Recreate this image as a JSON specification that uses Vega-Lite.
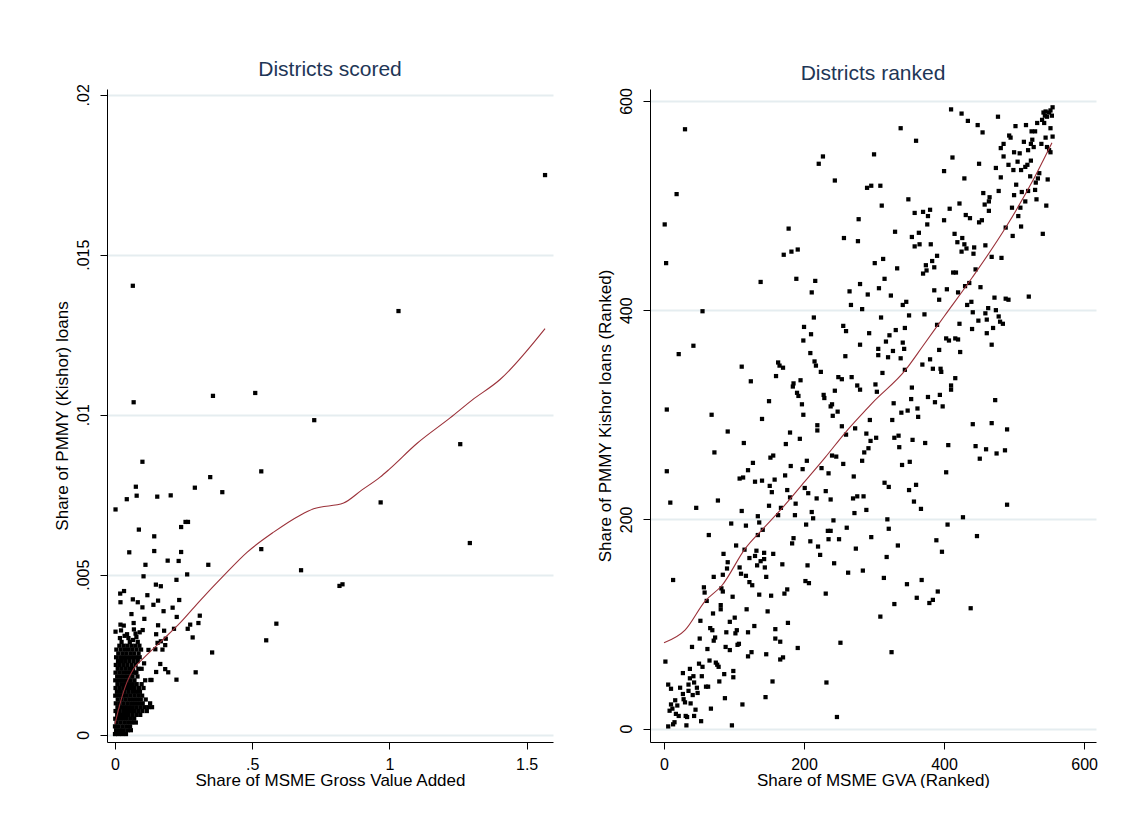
{
"$schema":"https://vega.github.io/schema/vega-lite/v6.json",
"background":"white",
"padding":{"left":53,"top":58,"right":0,"bottom":0},
"spacing":43,
"config":{
 "font":"Liberation Sans",
 "view":{"stroke":null},
 "title":{"font":"Liberation Sans","fontSize":21,"fontWeight":"normal","color":"#1e3656","frame":"group","anchor":"middle","offset":4,"baseline":"alphabetic"},
 "axis":{"domainColor":"#000","domainWidth":1,"tickColor":"#000","tickSize":7,"labelFont":"Liberation Sans","labelFontSize":16,"labelColor":"#000","titleFont":"Liberation Sans","titleFontSize":17,"titleColor":"#000","titleFontWeight":"normal","gridColor":"#e5edf0","gridWidth":2,"labelFlush":false,"labelOverlap":false},
 "axisY":{"labelAngle":270,"labelAlign":"center","labelBaseline":"bottom","labelPadding":9,"titlePadding":4,"grid":true},
 "axisX":{"grid":false,"labelPadding":7,"titlePadding":0}
},
"datasets":{
"left":[
{"x":1.567,"y":0.01749},{"x":0.065,"y":0.01403},{"x":0.068,"y":0.01039},{"x":1.033,"y":0.01324},{"x":0.357,"y":0.01059},{"x":0.511,"y":0.01068},{"x":0.726,"y":0.00983},{"x":1.258,"y":0.00908},{"x":1.293,"y":0.00599},{"x":0.968,"y":0.00726},{"x":0.533,"y":0.00823},{"x":0.533,"y":0.0058},{"x":0.678,"y":0.00514},{"x":0.818,"y":0.00465},{"x":0.829,"y":0.0047},
{"x":0.100,"y":0.00853},{"x":0.076,"y":0.00775},{"x":0.079,"y":0.00747},{"x":0.043,"y":0.00736},{"x":0.002,"y":0.00704},{"x":0.154,"y":0.00744},{"x":0.203,"y":0.00748},{"x":0.291,"y":0.00772},{"x":0.347,"y":0.00805},{"x":0.391,"y":0.00758},{"x":0.087,"y":0.00641},{"x":0.143,"y":0.0062},{"x":0.241,"y":0.00649},{"x":0.257,"y":0.00665},{"x":0.266,"y":0.00665},{"x":0.052,"y":0.0057},{"x":0.143,"y":0.00574},{"x":0.241,"y":0.00571},{"x":0.192,"y":0.00544},{"x":0.232,"y":0.00543},{"x":0.111,"y":0.00531},{"x":0.340,"y":0.00531},{"x":0.104,"y":0.00495},{"x":0.263,"y":0.00501},{"x":0.224,"y":0.00484},
{"x":0.149,"y":0.00469},{"x":0.167,"y":0.00464},{"x":0.019,"y":0.00441},{"x":0.033,"y":0.00449},{"x":0.020,"y":0.00414},{"x":0.065,"y":0.00423},{"x":0.083,"y":0.00414},{"x":0.100,"y":0.00398},{"x":0.118,"y":0.00436},{"x":0.157,"y":0.00419},{"x":0.140,"y":0.00406},{"x":0.177,"y":0.00386},{"x":0.210,"y":0.00397},{"x":0.234,"y":0.00421},{"x":0.225,"y":0.00368},{"x":0.060,"y":0.00377},{"x":0.107,"y":0.00362},{"x":0.068,"y":0.00349},{"x":0.309,"y":0.00372},{"x":0.304,"y":0.00349},{"x":0.274,"y":0.00344},{"x":0.265,"y":0.00331},{"x":0.215,"y":0.00331},{"x":0.020,"y":0.00344},{"x":0.032,"y":0.00341},{"x":0.002,"y":0.00322},{"x":0.101,"y":0.00327},{"x":0.157,"y":0.00342},{"x":0.150,"y":0.00314},{"x":0.179,"y":0.00325},{"x":0.283,"y":0.00304},{"x":0.185,"y":0.003},{"x":0.167,"y":0.00292},{"x":0.155,"y":0.00287},{"x":0.183,"y":0.0028},{"x":0.122,"y":0.00265},{"x":0.147,"y":0.00267},{"x":0.173,"y":0.00266},{"x":0.354,"y":0.00257},{"x":0.551,"y":0.00295},{"x":0.588,"y":0.00347},{"x":0.165,"y":0.00221},{"x":0.183,"y":0.00205},{"x":0.194,"y":0.00195},{"x":0.150,"y":0.00196},{"x":0.294,"y":0.00195},{"x":0.224,"y":0.00172},{"x":0.129,"y":0.00171},{"x":0.133,"y":0.00171},{"x":0.106,"y":0.00223},{"x":0.078,"y":0.00194},
{"x":0.000,"y":0.00002},{"x":0.012,"y":0.00002},{"x":0.026,"y":0.00002},{"x":0.040,"y":0.00002},
{"x":0.004,"y":0.00014},{"x":0.018,"y":0.00014},{"x":0.032,"y":0.00014},{"x":0.046,"y":0.00014},{"x":0.058,"y":0.00014},
{"x":0.000,"y":0.00026},{"x":0.013,"y":0.00026},{"x":0.027,"y":0.00026},{"x":0.041,"y":0.00026},{"x":0.055,"y":0.00026},
{"x":0.006,"y":0.00038},{"x":0.020,"y":0.00038},{"x":0.034,"y":0.00038},{"x":0.048,"y":0.00038},{"x":0.062,"y":0.00038},{"x":0.076,"y":0.00038},
{"x":0.001,"y":0.0005},{"x":0.015,"y":0.0005},{"x":0.029,"y":0.0005},{"x":0.043,"y":0.0005},{"x":0.057,"y":0.0005},{"x":0.070,"y":0.0005},
{"x":0.008,"y":0.00062},{"x":0.022,"y":0.00062},{"x":0.036,"y":0.00062},{"x":0.050,"y":0.00062},{"x":0.064,"y":0.00062},{"x":0.078,"y":0.00062},{"x":0.092,"y":0.00062},
{"x":0.002,"y":0.00074},{"x":0.016,"y":0.00074},{"x":0.030,"y":0.00074},{"x":0.044,"y":0.00074},{"x":0.058,"y":0.00074},{"x":0.072,"y":0.00074},{"x":0.086,"y":0.00074},{"x":0.100,"y":0.00074},{"x":0.116,"y":0.00074},
{"x":0.009,"y":0.00086},{"x":0.023,"y":0.00086},{"x":0.037,"y":0.00086},{"x":0.051,"y":0.00086},{"x":0.065,"y":0.00086},{"x":0.079,"y":0.00086},{"x":0.093,"y":0.00086},{"x":0.107,"y":0.00086},{"x":0.121,"y":0.00086},{"x":0.135,"y":0.00086},
{"x":0.003,"y":0.00098},{"x":0.017,"y":0.00098},{"x":0.031,"y":0.00098},{"x":0.045,"y":0.00098},{"x":0.059,"y":0.00098},{"x":0.073,"y":0.00098},{"x":0.087,"y":0.00098},{"x":0.101,"y":0.00098},{"x":0.128,"y":0.00098},
{"x":0.010,"y":0.0011},{"x":0.024,"y":0.0011},{"x":0.038,"y":0.0011},{"x":0.052,"y":0.0011},{"x":0.066,"y":0.0011},{"x":0.080,"y":0.0011},{"x":0.094,"y":0.0011},{"x":0.112,"y":0.0011},
{"x":0.001,"y":0.00122},{"x":0.015,"y":0.00122},{"x":0.029,"y":0.00122},{"x":0.043,"y":0.00122},{"x":0.057,"y":0.00122},{"x":0.071,"y":0.00122},{"x":0.085,"y":0.00122},{"x":0.099,"y":0.00122},
{"x":0.007,"y":0.00134},{"x":0.021,"y":0.00134},{"x":0.035,"y":0.00134},{"x":0.049,"y":0.00134},{"x":0.063,"y":0.00134},{"x":0.077,"y":0.00134},{"x":0.091,"y":0.00134},
{"x":0.002,"y":0.00146},{"x":0.016,"y":0.00146},{"x":0.030,"y":0.00146},{"x":0.044,"y":0.00146},{"x":0.058,"y":0.00146},{"x":0.072,"y":0.00146},{"x":0.088,"y":0.00146},{"x":0.104,"y":0.00146},
{"x":0.009,"y":0.00158},{"x":0.023,"y":0.00158},{"x":0.037,"y":0.00158},{"x":0.051,"y":0.00158},{"x":0.065,"y":0.00158},{"x":0.079,"y":0.00158},{"x":0.097,"y":0.00158},
{"x":0.001,"y":0.0017},{"x":0.015,"y":0.0017},{"x":0.029,"y":0.0017},{"x":0.043,"y":0.0017},{"x":0.057,"y":0.0017},{"x":0.071,"y":0.0017},{"x":0.110,"y":0.0017},
{"x":0.008,"y":0.00182},{"x":0.022,"y":0.00182},{"x":0.036,"y":0.00182},{"x":0.050,"y":0.00182},{"x":0.064,"y":0.00182},{"x":0.082,"y":0.00182},
{"x":0.002,"y":0.00194},{"x":0.016,"y":0.00194},{"x":0.030,"y":0.00194},{"x":0.044,"y":0.00194},{"x":0.058,"y":0.00194},{"x":0.072,"y":0.00194},
{"x":0.010,"y":0.00206},{"x":0.024,"y":0.00206},{"x":0.038,"y":0.00206},{"x":0.052,"y":0.00206},{"x":0.066,"y":0.00206},{"x":0.085,"y":0.00206},{"x":0.097,"y":0.00206},
{"x":0.003,"y":0.00218},{"x":0.017,"y":0.00218},{"x":0.031,"y":0.00218},{"x":0.045,"y":0.00218},{"x":0.060,"y":0.00218},{"x":0.075,"y":0.00218},
{"x":0.011,"y":0.0023},{"x":0.025,"y":0.0023},{"x":0.039,"y":0.0023},{"x":0.053,"y":0.0023},{"x":0.068,"y":0.0023},{"x":0.083,"y":0.0023},
{"x":0.004,"y":0.00242},{"x":0.019,"y":0.00242},{"x":0.033,"y":0.00242},{"x":0.047,"y":0.00242},{"x":0.062,"y":0.00242},{"x":0.077,"y":0.00242},{"x":0.090,"y":0.00242},
{"x":0.012,"y":0.00254},{"x":0.027,"y":0.00254},{"x":0.041,"y":0.00254},{"x":0.056,"y":0.00254},{"x":0.070,"y":0.00254},{"x":0.086,"y":0.00254},
{"x":0.005,"y":0.00266},{"x":0.021,"y":0.00266},{"x":0.036,"y":0.00266},{"x":0.050,"y":0.00266},{"x":0.064,"y":0.00266},{"x":0.079,"y":0.00266},{"x":0.095,"y":0.00266},
{"x":0.016,"y":0.00278},{"x":0.031,"y":0.00278},{"x":0.045,"y":0.00278},{"x":0.060,"y":0.00278},{"x":0.074,"y":0.00278},{"x":0.089,"y":0.00278},
{"x":0.024,"y":0.0029},{"x":0.054,"y":0.0029},{"x":0.083,"y":0.0029},{"x":0.066,"y":0.00296},
{"x":0.018,"y":0.00302},{"x":0.049,"y":0.00302},{"x":0.078,"y":0.00305},
{"x":0.044,"y":0.00314},{"x":0.075,"y":0.00316},{"x":0.035,"y":0.00309},
{"x":0.022,"y":0.00326},{"x":0.069,"y":0.00329},{"x":0.090,"y":0.0032}
],
"leftfit":[
{"x":0.0,"y":0.00034},{"x":0.02,"y":0.00102},{"x":0.044,"y":0.00165},{"x":0.068,"y":0.00206},{"x":0.105,"y":0.00240},{"x":0.166,"y":0.0029},{"x":0.238,"y":0.0035},{"x":0.311,"y":0.0042},{"x":0.396,"y":0.00497},{"x":0.481,"y":0.0057},{"x":0.578,"y":0.00633},{"x":0.675,"y":0.00686},{"x":0.724,"y":0.00706},{"x":0.833,"y":0.00724},{"x":0.9,"y":0.00765},{"x":0.966,"y":0.00805},{"x":1.0,"y":0.0083},{"x":1.1,"y":0.0091},{"x":1.221,"y":0.0099},{"x":1.3,"y":0.01045},{"x":1.403,"y":0.0111},{"x":1.567,"y":0.01269}
],
"right":[
{"x":30,"y":573},{"x":227,"y":547},{"x":221,"y":540},{"x":244,"y":524},{"x":290,"y":517},{"x":296,"y":519},{"x":18,"y":511},{"x":278,"y":487},{"x":1,"y":482},{"x":178,"y":478},{"x":257,"y":469},{"x":277,"y":466},{"x":171,"y":453},{"x":182,"y":456},{"x":191,"y":458},{"x":3,"y":445},{"x":189,"y":430},{"x":138,"y":427},{"x":216,"y":428},{"x":211,"y":417},{"x":280,"y":425},{"x":265,"y":418},{"x":291,"y":415},{"x":267,"y":405},{"x":283,"y":401},{"x":55,"y":399},{"x":214,"y":393},{"x":200,"y":384},{"x":210,"y":377},{"x":256,"y":385},{"x":260,"y":380},{"x":293,"y":378},{"x":199,"y":371},{"x":280,"y":367},{"x":42,"y":366},{"x":21,"y":358},{"x":209,"y":359},{"x":259,"y":356},{"x":111,"y":346},{"x":163,"y":350},{"x":165,"y":347},{"x":170,"y":345},{"x":215,"y":351},{"x":217,"y":347},{"x":224,"y":341},{"x":160,"y":337},{"x":124,"y":332},{"x":195,"y":333},{"x":185,"y":330},{"x":184,"y":327},{"x":249,"y":336},{"x":254,"y":334},{"x":268,"y":336},{"x":276,"y":328},{"x":280,"y":324},{"x":190,"y":321},{"x":192,"y":318},{"x":228,"y":319},{"x":229,"y":316},{"x":244,"y":323},{"x":150,"y":313},{"x":197,"y":310},{"x":238,"y":308},{"x":240,"y":310},{"x":248,"y":303},{"x":4,"y":305},{"x":68,"y":300},{"x":199,"y":300},{"x":241,"y":299},{"x":140,"y":296},{"x":294,"y":295},
{"x":410,"y":592},{"x":425,"y":588},{"x":434,"y":581},{"x":448,"y":577},{"x":455,"y":570},{"x":477,"y":585},{"x":338,"y":574},{"x":360,"y":562},{"x":300,"y":549},{"x":412,"y":546},{"x":400,"y":533},{"x":450,"y":540},{"x":429,"y":526},{"x":309,"y":519},{"x":311,"y":500},{"x":349,"y":506},{"x":408,"y":497},{"x":422,"y":502},{"x":358,"y":493},{"x":370,"y":494},{"x":380,"y":496},{"x":377,"y":490},{"x":376,"y":482},{"x":400,"y":486},{"x":456,"y":512},{"x":465,"y":508},{"x":464,"y":504},{"x":458,"y":501},{"x":464,"y":495},{"x":478,"y":514},{"x":431,"y":491},{"x":437,"y":488},{"x":450,"y":484},{"x":454,"y":486},{"x":330,"y":475},{"x":354,"y":470},{"x":364,"y":474},{"x":358,"y":461},{"x":365,"y":463},{"x":381,"y":463},{"x":415,"y":473},{"x":426,"y":469},{"x":419,"y":465},{"x":429,"y":463},{"x":432,"y":459},{"x":425,"y":456},{"x":443,"y":460},{"x":442,"y":454},{"x":459,"y":462},{"x":390,"y":452},{"x":383,"y":447},{"x":374,"y":443},{"x":386,"y":441},{"x":375,"y":438},{"x":370,"y":435},{"x":301,"y":445},{"x":313,"y":449},{"x":333,"y":440},{"x":315,"y":430},{"x":307,"y":421},{"x":324,"y":414},{"x":413,"y":436},{"x":417,"y":436},{"x":445,"y":439},{"x":468,"y":451},{"x":482,"y":450},{"x":386,"y":419},{"x":404,"y":420},{"x":420,"y":417},{"x":430,"y":423},{"x":436,"y":426},{"x":452,"y":422},{"x":393,"y":410},{"x":341,"y":405},{"x":346,"y":408},{"x":433,"y":405},{"x":439,"y":408},{"x":472,"y":412},{"x":488,"y":411},{"x":492,"y":410},{"x":521,"y":413},{"x":372,"y":396},{"x":350,"y":395},{"x":310,"y":393},{"x":441,"y":398},{"x":463,"y":402},{"x":459,"y":397},{"x":474,"y":400},{"x":478,"y":394},{"x":480,"y":389},{"x":484,"y":387},{"x":449,"y":390},{"x":461,"y":391},{"x":422,"y":387},{"x":440,"y":382},{"x":470,"y":383},{"x":390,"y":386},{"x":344,"y":383},{"x":331,"y":381},{"x":322,"y":376},{"x":317,"y":370},{"x":306,"y":363},{"x":306,"y":357},{"x":320,"y":355},{"x":327,"y":361},{"x":341,"y":369},{"x":343,"y":363},{"x":338,"y":354},{"x":403,"y":373},{"x":407,"y":371},{"x":416,"y":373},{"x":420,"y":372},{"x":393,"y":362},{"x":423,"y":360},{"x":461,"y":378},{"x":468,"y":367},{"x":380,"y":353},{"x":369,"y":348},{"x":384,"y":344},{"x":395,"y":344},{"x":396,"y":341},{"x":344,"y":343},{"x":312,"y":340},{"x":416,"y":335},{"x":302,"y":329},{"x":304,"y":322},{"x":354,"y":326},{"x":410,"y":328},{"x":410,"y":324},{"x":394,"y":319},{"x":377,"y":317},{"x":353,"y":315},{"x":387,"y":312},{"x":398,"y":308},{"x":328,"y":311},{"x":362,"y":306},{"x":348,"y":304},{"x":339,"y":302},{"x":363,"y":298},{"x":473,"y":314},{"x":326,"y":295},
{"x":502,"y":576},{"x":517,"y":577},{"x":533,"y":579},{"x":542,"y":589},{"x":545,"y":590},{"x":552,"y":591},{"x":555,"y":594},{"x":550,"y":589},{"x":544,"y":586},{"x":540,"y":582},{"x":547,"y":585},{"x":554,"y":586},{"x":543,"y":579},{"x":552,"y":574},{"x":545,"y":565},{"x":555,"y":566},{"x":539,"y":559},{"x":525,"y":571},{"x":530,"y":571},{"x":526,"y":563},{"x":524,"y":559},{"x":514,"y":561},{"x":520,"y":553},{"x":528,"y":556},{"x":508,"y":550},{"x":500,"y":551},{"x":485,"y":559},{"x":481,"y":555},{"x":493,"y":567},{"x":495,"y":565},{"x":485,"y":547},{"x":492,"y":539},{"x":505,"y":542},{"x":519,"y":539},{"x":524,"y":543},{"x":510,"y":534},{"x":516,"y":537},{"x":523,"y":528},{"x":536,"y":531},{"x":534,"y":526},{"x":548,"y":525},{"x":550,"y":553},{"x":552,"y":551},{"x":547,"y":556},{"x":474,"y":536},{"x":481,"y":527},{"x":499,"y":534},{"x":503,"y":520},{"x":511,"y":513},{"x":520,"y":514},{"x":530,"y":515},{"x":531,"y":522},{"x":532,"y":506},{"x":546,"y":500},{"x":500,"y":510},{"x":516,"y":504},{"x":497,"y":498},{"x":509,"y":498},{"x":506,"y":490},{"x":510,"y":480},{"x":498,"y":471},{"x":488,"y":479},{"x":541,"y":473},
{"x":219,"y":290},{"x":219,"y":285},{"x":254,"y":289},{"x":273,"y":287},{"x":289,"y":282},{"x":295,"y":275},{"x":91,"y":284},{"x":180,"y":283},{"x":194,"y":277},{"x":174,"y":272},{"x":260,"y":281},{"x":114,"y":273},{"x":72,"y":264},{"x":4,"y":246},{"x":152,"y":259},{"x":156,"y":261},{"x":127,"y":254},{"x":204,"y":256},{"x":181,"y":251},{"x":240,"y":261},{"x":246,"y":260},{"x":256,"y":253},{"x":283,"y":256},{"x":286,"y":264},{"x":292,"y":268},{"x":120,"y":247},{"x":173,"y":242},{"x":198,"y":248},{"x":225,"y":249},{"x":235,"y":244},{"x":271,"y":241},{"x":108,"y":239},{"x":113,"y":240},{"x":130,"y":236},{"x":140,"y":237},{"x":151,"y":232},{"x":158,"y":238},{"x":154,"y":226},{"x":176,"y":228},{"x":201,"y":230},{"x":206,"y":225},{"x":231,"y":227},{"x":218,"y":220},{"x":238,"y":219},{"x":270,"y":220},{"x":276,"y":222},{"x":285,"y":222},{"x":289,"y":209},{"x":272,"y":206},{"x":9,"y":216},{"x":77,"y":218},{"x":46,"y":211},{"x":150,"y":213},{"x":167,"y":211},{"x":180,"y":221},{"x":188,"y":215},{"x":111,"y":208},{"x":163,"y":204},{"x":187,"y":204},{"x":211,"y":207},{"x":213,"y":201},{"x":242,"y":199},{"x":134,"y":203},{"x":136,"y":197},{"x":96,"y":196},{"x":117,"y":194},{"x":141,"y":190},{"x":203,"y":195},{"x":261,"y":192},{"x":234,"y":189},{"x":238,"y":189},{"x":64,"y":185},{"x":134,"y":185},{"x":185,"y":182},{"x":183,"y":177},{"x":209,"y":179},{"x":235,"y":181},{"x":250,"y":181},{"x":296,"y":183},{"x":220,"y":174},{"x":223,"y":166},{"x":274,"y":172},{"x":103,"y":175},{"x":132,"y":170},{"x":130,"y":165},{"x":143,"y":168},{"x":143,"y":162},{"x":156,"y":167},{"x":85,"y":167},{"x":91,"y":159},{"x":115,"y":171},{"x":122,"y":163},{"x":138,"y":160},{"x":133,"y":156},{"x":144,"y":154},{"x":108,"y":154},{"x":110,"y":148},{"x":117,"y":146},{"x":146,"y":145},{"x":169,"y":157},{"x":205,"y":156},{"x":243,"y":158},{"x":263,"y":149},{"x":284,"y":151},{"x":90,"y":153},{"x":84,"y":147},{"x":71,"y":145},{"x":13,"y":142},{"x":122,"y":140},{"x":126,"y":137},{"x":202,"y":141},{"x":207,"y":139},{"x":231,"y":129},{"x":57,"y":135},{"x":58,"y":130},{"x":82,"y":134},{"x":84,"y":131},{"x":98,"y":126},{"x":136,"y":128},{"x":153,"y":127},{"x":172,"y":129},{"x":176,"y":133},{"x":61,"y":122},{"x":81,"y":118},{"x":81,"y":114},{"x":70,"y":110},{"x":101,"y":106},{"x":118,"y":114},{"x":148,"y":112},{"x":177,"y":101},{"x":129,"y":98},{"x":94,"y":102},{"x":52,"y":103},{"x":66,"y":96},{"x":69,"y":94},{"x":51,"y":86},{"x":73,"y":87},{"x":71,"y":84},{"x":89,"y":92},{"x":102,"y":91},{"x":104,"y":94},{"x":120,"y":92},{"x":159,"y":95},{"x":159,"y":86},{"x":166,"y":83},{"x":105,"y":80},{"x":107,"y":81},{"x":88,"y":78},{"x":94,"y":75},{"x":62,"y":76},{"x":40,"y":78},{"x":125,"y":73},{"x":120,"y":69},{"x":146,"y":71},{"x":166,"y":66},{"x":170,"y":68},{"x":191,"y":77},{"x":252,"y":82},{"x":2,"y":64},{"x":65,"y":65},{"x":50,"y":62},{"x":55,"y":59},{"x":74,"y":63},{"x":78,"y":59},{"x":76,"y":61},{"x":37,"y":57},{"x":27,"y":53},{"x":54,"y":50},{"x":42,"y":50},{"x":37,"y":48},{"x":43,"y":44},{"x":86,"y":52},{"x":99,"y":55},{"x":99,"y":49},{"x":79,"y":45},{"x":60,"y":40},{"x":63,"y":40},{"x":47,"y":39},{"x":48,"y":34},{"x":35,"y":36},{"x":35,"y":42},{"x":23,"y":39},{"x":10,"y":38},{"x":6,"y":42},{"x":27,"y":33},{"x":28,"y":28},{"x":30,"y":25},{"x":38,"y":24},{"x":41,"y":32},{"x":16,"y":27},{"x":19,"y":22},{"x":10,"y":23},{"x":12,"y":19},{"x":8,"y":17},{"x":17,"y":14},{"x":21,"y":12},{"x":15,"y":6},{"x":6,"y":2},{"x":13,"y":4},{"x":31,"y":12},{"x":33,"y":11},{"x":32,"y":3},{"x":45,"y":18},{"x":43,"y":12},{"x":53,"y":7},{"x":67,"y":19},{"x":87,"y":29},{"x":112,"y":23},{"x":145,"y":30},{"x":97,"y":3},{"x":155,"y":45},{"x":232,"y":44},{"x":247,"y":11},
{"x":303,"y":278},{"x":329,"y":278},{"x":335,"y":280},{"x":336,"y":269},{"x":355,"y":276},{"x":373,"y":273},{"x":406,"y":271},{"x":441,"y":291},{"x":468,"y":292},{"x":490,"y":286},{"x":445,"y":270},{"x":460,"y":267},{"x":475,"y":263},{"x":487,"y":266},{"x":451,"y":258},{"x":351,"y":255},{"x":340,"y":252},{"x":403,"y":245},{"x":315,"y":235},{"x":321,"y":231},{"x":350,"y":228},{"x":360,"y":233},{"x":357,"y":217},{"x":367,"y":210},{"x":490,"y":214},{"x":319,"y":200},{"x":321,"y":191},{"x":427,"y":202},{"x":405,"y":195},{"x":447,"y":184},{"x":389,"y":180},{"x":397,"y":169},{"x":334,"y":175},{"x":318,"y":164},{"x":314,"y":144},{"x":347,"y":138},{"x":368,"y":142},{"x":391,"y":131},{"x":361,"y":125},{"x":384,"y":123},{"x":379,"y":120},{"x":329,"y":119},{"x":438,"y":115},{"x":309,"y":107},{"x":325,"y":73}
],
"rightfit":[
{"x":0,"y":82},{"x":30,"y":94},{"x":59,"y":122},{"x":83,"y":137},{"x":116,"y":172},{"x":140,"y":190},{"x":169,"y":211},{"x":197,"y":233},{"x":230,"y":259},{"x":259,"y":283},{"x":286,"y":303},{"x":297,"y":311},{"x":345,"y":343},{"x":370,"y":366},{"x":400,"y":394},{"x":440,"y":431},{"x":488,"y":479},{"x":526,"y":523},{"x":554,"y":560}
]
},
"hconcat":[
{
 "width":446,"height":653,
 "title":{"text":"Districts scored"},
 "encoding":{
  "x":{"field":"x","type":"quantitative","scale":{"domain":[-0.0291,1.596],"nice":false,"zero":false},"axis":{"title":"Share of MSME Gross Value Added","values":[0,0.5,1,1.5],"labelExpr":"datum.value == 0 ? '0' : replace(toString(datum.value), '0.', '.')"}},
  "y":{"field":"y","type":"quantitative","scale":{"domain":[-0.000228,0.02018],"nice":false,"zero":false},"axis":{"title":"Share of PMMY (Kishor) loans","values":[0,0.005,0.01,0.015,0.02],"labelExpr":"datum.value == 0 ? '0' : replace(toString(datum.value), '0.', '.')"}}
 },
 "layer":[
  {"data":{"name":"left"},"mark":{"type":"point","shape":"square","filled":true,"size":18,"color":"#000","opacity":1,"strokeWidth":0}},
  {"data":{"name":"leftfit"},"mark":{"type":"line","color":"#9b3139","strokeWidth":1.1,"interpolate":"monotone"}}
 ]
},
{
 "width":446,"height":653,
 "title":{"text":"Districts ranked"},
 "encoding":{
  "x":{"field":"x","type":"quantitative","scale":{"domain":[-20,617],"nice":false,"zero":false},"axis":{"title":"Share of MSME GVA (Ranked)","values":[0,200,400,600]}},
  "y":{"field":"y","type":"quantitative","scale":{"domain":[-12.9,611.5],"nice":false,"zero":false},"axis":{"title":"Share of PMMY Kishor loans (Ranked)","values":[0,200,400,600]}}
 },
 "layer":[
  {"data":{"name":"right"},"mark":{"type":"point","shape":"square","filled":true,"size":18,"color":"#000","opacity":1,"strokeWidth":0}},
  {"data":{"name":"rightfit"},"mark":{"type":"line","color":"#9b3139","strokeWidth":1.1,"interpolate":"monotone"}}
 ]
}
]
}
